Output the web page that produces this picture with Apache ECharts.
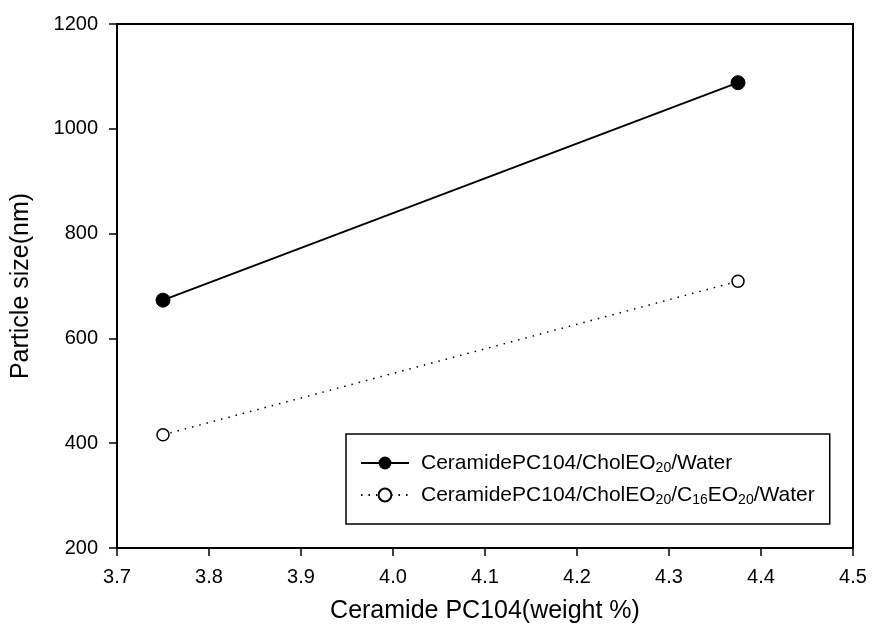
<!DOCTYPE html>
<html>
<head>
<meta charset="utf-8">
<script src="https://cdn.jsdelivr.net/npm/echarts@6/dist/echarts.min.js"></script>
<style>
  html, body { margin: 0; padding: 0; background: #fff; }
  #chart { width: 882px; height: 633px; }
</style>
</head>
<body>
<div id="chart"></div>
<script>
// 数据
const xValues = [3.75, 4.375];
const cholWater = [673, 1088];
const cholC16Water = [416, 709];
const seriesNames = [
  "CeramidePC104/CholEO20/Water",
  "CeramidePC104/CholEO20/C16EO20/Water"
];

const font = "Liberation Sans, Arial, sans-serif";

function pairs(ys) {
  return xValues.map((x, i) => [x, ys[i]]);
}

let myChart = echarts.init(document.getElementById("chart"));
myChart.setOption({
  backgroundColor: "#fff",
  animation: false,
  grid: {
    left: 117,
    right: 29,
    top: 24,
    bottom: 85,
    show: true,
    borderColor: "#000",
    borderWidth: 2
  },
  legend: {
    left: 346,
    top: 434,
    orient: "vertical",
    itemGap: 8,
    itemWidth: 48,
    itemHeight: 16,
    padding: [17, 15, 17, 14],
    borderColor: "#000",
    borderWidth: 1.5,
    data: seriesNames,
    formatter: function (name) {
      if (name === seriesNames[0]) {
        return "CeramidePC104/CholEO{sub|20}/Water";
      }
      return "CeramidePC104/CholEO{sub|20}/C{sub|16}EO{sub|20}/Water";
    },
    textStyle: {
      fontFamily: font,
      fontSize: 21,
      lineHeight: 24,
      color: "#000",
      padding: [0, 0, 0, 7],
      rich: {
        sub: { fontFamily: font, fontSize: 14, color: "#000", verticalAlign: "bottom", lineHeight: 24, padding: [10, 0, 0, 0] }
      }
    }
  },
  xAxis: {
    type: "value",
    min: 3.7,
    max: 4.5,
    interval: 0.1,
    name: "Ceramide PC104(weight %)",
    nameLocation: "middle",
    nameGap: 51,
    nameTextStyle: { fontFamily: font, fontSize: 25, color: "#000" },
    axisLine: { show: true, lineStyle: { color: "#000", width: 2 } },
    axisTick: { show: true, inside: false, length: 8, lineStyle: { color: "#000", width: 1.5 } },
    splitLine: { show: false },
    axisLabel: {
      fontFamily: font,
      fontSize: 20,
      color: "#000",
      margin: 19,
      formatter: v => v.toFixed(1)
    }
  },
  yAxis: {
    type: "value",
    min: 200,
    max: 1200,
    interval: 200,
    name: "Particle size(nm)",
    nameLocation: "middle",
    nameGap: 83,
    nameTextStyle: { fontFamily: font, fontSize: 25, color: "#000" },
    axisLine: { show: true, lineStyle: { color: "#000", width: 2 } },
    axisTick: { show: true, inside: false, length: 8, lineStyle: { color: "#000", width: 1.5 } },
    splitLine: { show: false },
    axisLabel: {
      fontFamily: font,
      fontSize: 20,
      color: "#000",
      margin: 19,
      formatter: v => String(v)
    }
  },
  series: [
    {
      name: seriesNames[0],
      type: "line",
      data: pairs(cholWater),
      symbol: "circle",
      symbolSize: 14,
      itemStyle: { color: "#000", borderColor: "#000" },
      lineStyle: { color: "#000", width: 2 }
    },
    {
      name: seriesNames[1],
      type: "line",
      data: pairs(cholC16Water),
      symbol: "circle",
      symbolSize: 12,
      itemStyle: { color: "#fff", borderColor: "#000", borderWidth: 1.5 },
      lineStyle: { color: "#000", width: 1.5, type: [1.5, 6] }
    }
  ]
});
</script>
</body>
</html>
